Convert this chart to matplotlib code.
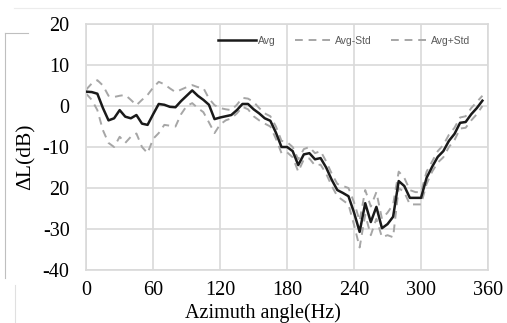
import numpy as np
import matplotlib.pyplot as plt
from matplotlib.lines import Line2D

# azimuth angles, 5 degree steps
azimuth = list(range(0, 360, 5))

avg = [3.5, 3.4, 3.0, -0.5, -3.5, -3.0, -1.0, -2.6, -3.0, -2.2,
       -4.3, -4.6, -2.0, 0.5, 0.3, -0.2, -0.3, 1.2, 2.5, 3.8,
       2.5, 1.5, 0.3, -3.2, -2.8, -2.5, -2.2, -1.0, 0.5, 0.5,
       -0.8, -1.8, -3.0, -3.6, -6.5, -10.0, -10.0, -11.0, -14.4, -11.8,
       -11.5, -13.0, -12.7, -15.0, -18.0, -20.5, -21.2, -22.0, -26.0, -30.7,
       -23.7, -28.3, -24.6, -29.8, -28.8, -27.0, -18.3, -19.5, -22.4, -22.4,
       -22.4, -17.5, -14.8, -12.4, -11.0, -8.5, -6.8, -4.1, -3.9, -2.0,
       -0.5, 1.3]

avg_minus_std = [3.0, 1.5, -1.0, -5.9, -9.0, -10.0, -7.5, -9.0, -7.5, -6.7,
                 -10.0, -11.5, -8.0, -6.6, -4.6, -4.8, -5.0, -2.0, 0.0, 0.7,
                 -0.5, -1.5, -4.0, -6.6, -4.5, -3.5, -3.0, -1.8, -0.2, -0.8,
                 -2.5, -3.5, -4.3, -5.0, -8.0, -11.5, -11.3, -12.5, -16.0, -13.0,
                 -12.8, -14.5, -14.3, -16.5, -19.5, -22.0, -23.0, -24.0, -29.0, -34.5,
                 -26.5, -31.5, -27.5, -32.0, -31.5, -32.0, -20.0, -21.0, -24.0, -24.0,
                 -24.0, -19.0, -16.0, -13.8, -12.5, -10.0, -8.3, -5.5, -5.3, -3.5,
                 -2.0, 0.0]

avg_plus_std = [4.0, 5.5, 6.3, 5.0, 2.5, 2.2, 2.5, 2.7, 1.5, 0.2,
                1.5, 2.7, 4.5, 5.9, 5.3, 4.3, 3.4, 4.0, 4.6, 5.1,
                4.6, 4.4, 1.8, 0.2, -0.5, -0.8, -1.0, 0.3, 2.0, 1.8,
                1.0, -0.5, -1.8, -2.5, -5.0, -8.5, -8.8, -10.0, -13.0, -10.5,
                -10.0, -11.5, -11.0, -13.5, -16.5, -19.0, -19.5, -20.0, -23.5, -28.0,
                -20.5, -24.5, -21.0, -27.5, -26.0, -24.0, -16.0, -17.5, -20.5, -21.0,
                -21.0, -16.0, -13.5, -11.0, -9.5, -7.0, -5.3, -2.8, -2.5, -0.5,
                1.0, 2.5]

x_ticks = [0, 60, 120, 180, 240, 300, 360]
y_ticks = [20, 10, 0, -10, -20, -30, -40]
y_tick_labels = ['20', '10', '0', '-10', '20', '-30', '-40']

serif = ['Liberation Serif', 'DejaVu Serif']
narrow = ['Liberation Sans Narrow', 'Liberation Sans', 'DejaVu Sans']

fig = plt.figure(figsize=(5.07, 3.23), dpi=100)
ax = fig.add_axes([0.170, 0.164, 0.7925, 0.7617])

ax.plot(azimuth, avg, color='#1a1a1a', lw=1.8, label='Avg', zorder=3)
ax.plot(azimuth, avg_minus_std, color='#a6a6a6', lw=1.4, ls=(0, (4, 3)), label='Avg-Std', zorder=2)
ax.plot(azimuth, avg_plus_std, color='#a6a6a6', lw=1.4, ls=(0, (4, 3)), label='Avg+Std', zorder=2)

ax.set_xlim(0, 360)
ax.set_ylim(-40, 20)
ax.set_xticks(x_ticks)
ax.set_yticks(y_ticks)
ax.set_yticklabels(y_tick_labels)
ax.grid(True, color='#d9d9d9', lw=1.2)
ax.set_axisbelow(True)
for sp in ax.spines.values():
    sp.set_color('#d9d9d9')
    sp.set_linewidth(1.2)

ax.tick_params(length=0)
ax.tick_params(axis='y', pad=12)
ax.tick_params(axis='x', pad=8)
for lab in ax.get_xticklabels() + ax.get_yticklabels():
    lab.set_family(serif)
    lab.set_fontsize(14.5)

ax.set_ylabel('ΔL(dB)', family=serif, fontsize=15.5)
ax.yaxis.set_label_coords(-0.125, 0.46)
ax.set_xlabel('Azimuth angle(Hz)', family=serif, fontsize=14.5)
ax.xaxis.set_label_coords(0.44, -0.135)

leg = ax.legend(loc='upper center', bbox_to_anchor=(0.642, 0.99), ncol=3, frameon=False,
                prop={'family': narrow, 'size': 7.5}, handlelength=3.6, columnspacing=1.9,
                handletextpad=0.2)
for t in leg.get_texts():
    t.set_color('#595959')

# faint frame remains from the scanned figure
fig.add_artist(Line2D([5 / 507, 5 / 507], [1 - 33 / 323, 1 - 278 / 323], color='#bfbfbf', lw=0.8))
fig.add_artist(Line2D([5 / 507, 28 / 507], [1 - 33 / 323, 1 - 33 / 323], color='#bfbfbf', lw=0.8))
fig.add_artist(Line2D([14 / 507, 500 / 507], [1 - 8 / 323, 1 - 8 / 323], color='#ececec', lw=0.8))
fig.add_artist(Line2D([15 / 507, 15 / 507], [1 - 285 / 323, 0], color='#e0e0e0', lw=0.8))

fig.savefig('out.png', dpi=100)
